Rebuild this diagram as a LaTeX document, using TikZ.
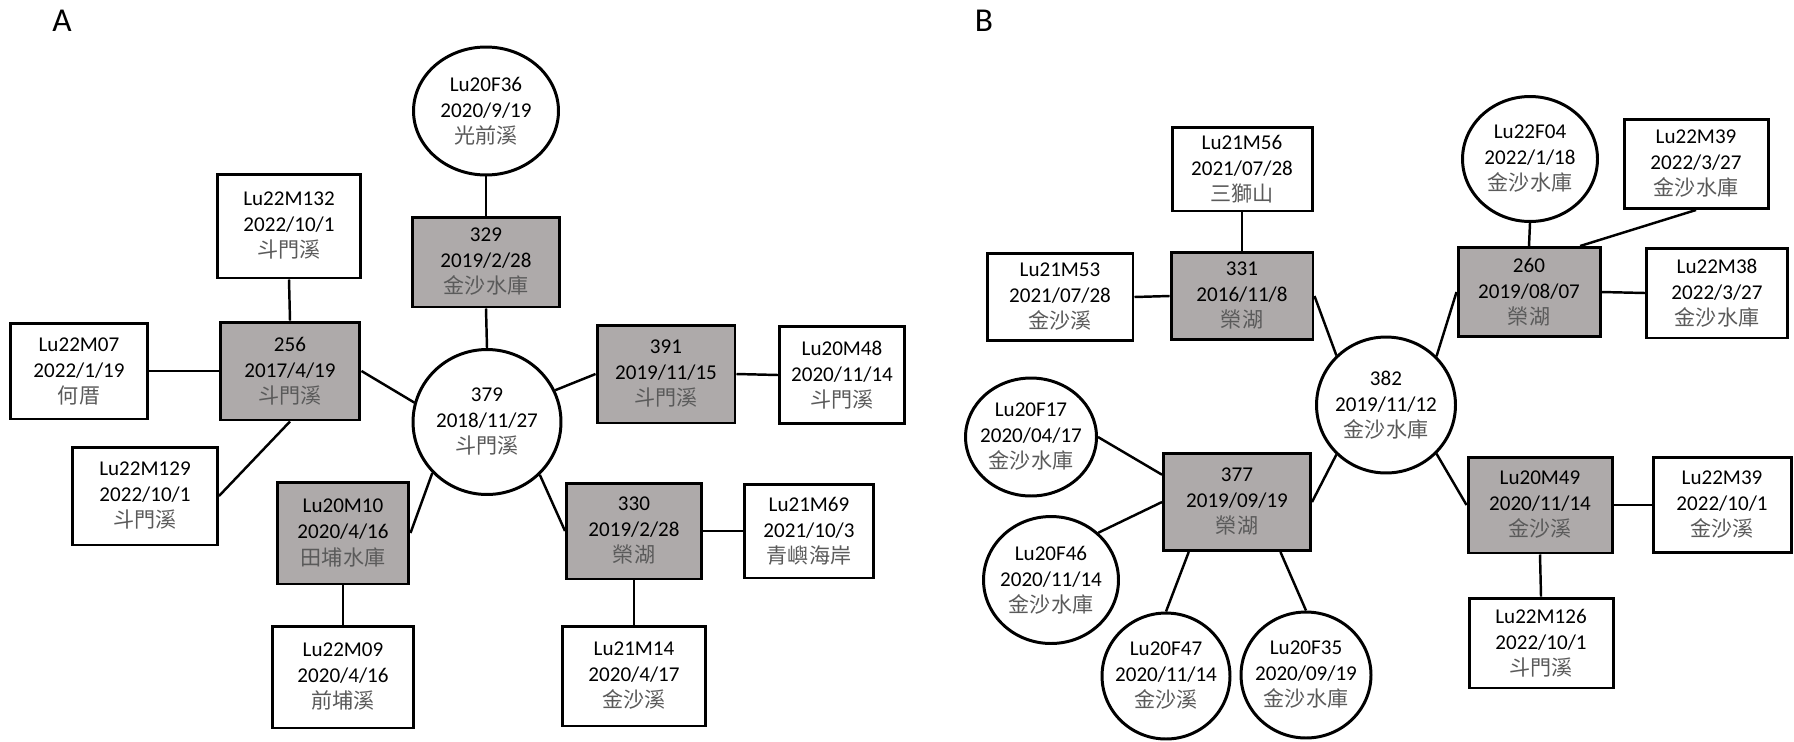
\documentclass[tikz,border=0pt]{standalone}
\usepackage{tikz, xcolor}
\usepackage{fontspec}
\setmainfont{Carlito}
\newfontfamily\cjk{Noto Sans CJK TC}
\usetikzlibrary{shapes.geometric}
\definecolor{boxgray}{RGB}{174,170,170}
\definecolor{locgray}{RGB}{90,90,90}
\newcommand{\loc}[1]{{\cjk\color{locgray}#1}}

\begin{document}
\begin{tikzpicture}[x=0.02cm, y=-0.02cm, font=\fontsize{12}{14.8}\selectfont]
\tikzstyle{vertexr}=[rectangle, draw=black, line width=1.7pt, fill=white, align=center, inner sep=1pt]
\tikzstyle{vertexg}=[vertexr, fill=boxgray]
\tikzstyle{vertexc}=[ellipse, draw=black, line width=1.7pt, fill=white, align=center, inner sep=-0.5cm]
\tikzstyle{drawstyle}=[line width=1.4pt]
\tikzstyle{panel}=[font=\fontsize{19}{22}\selectfont]

\useasboundingbox (0,0) rectangle (1794,741);

% panel A
\node[panel] (labA) at (62,21) {A};
\node[vertexc, minimum width=2.9cm, minimum height=2.56cm] (ALu20F36) at (486,111) {Lu20F36\\2020/9/19\\\loc{光前溪}};
\node[vertexg, minimum width=2.94cm, minimum height=1.8cm] (A329) at (486,262) {329\\2019/2/28\\\loc{金沙水庫}};
\node[vertexr, minimum width=2.86cm, minimum height=2.08cm] (ALu22M132) at (289,226) {Lu22M132\\2022/10/1\\\loc{斗門溪}};
\node[vertexg, minimum width=2.8cm, minimum height=1.96cm] (A256) at (290,371) {256\\2017/4/19\\\loc{斗門溪}};
\node[vertexr, minimum width=2.76cm, minimum height=1.92cm] (ALu22M07) at (79,371) {Lu22M07\\2022/1/19\\\loc{何厝}};
\node[vertexc, minimum width=2.96cm, minimum height=2.9cm] (A379) at (487,422) {379\\2018/11/27\\\loc{斗門溪}};
\node[vertexg, minimum width=2.76cm, minimum height=1.96cm] (A391) at (666,374) {391\\2019/11/15\\\loc{斗門溪}};
\node[vertexr, minimum width=2.5cm, minimum height=1.94cm] (ALu20M48) at (842,375) {Lu20M48\\2020/11/14\\\loc{斗門溪}};
\node[vertexr, minimum width=2.9cm, minimum height=1.96cm] (ALu22M129) at (145,496) {Lu22M129\\2022/10/1\\\loc{斗門溪}};
\node[vertexg, minimum width=2.64cm, minimum height=2.04cm] (ALu20M10) at (343,533) {Lu20M10\\2020/4/16\\\loc{田埔水庫}};
\node[vertexr, minimum width=2.84cm, minimum height=2.04cm] (ALu22M09) at (343,677) {Lu22M09\\2020/4/16\\\loc{前埔溪}};
\node[vertexg, minimum width=2.7cm, minimum height=1.92cm] (A330) at (634,531) {330\\2019/2/28\\\loc{榮湖}};
\node[vertexr, minimum width=2.58cm, minimum height=1.88cm] (ALu21M69) at (809,531) {Lu21M69\\2021/10/3\\\loc{青嶼海岸}};
\node[vertexr, minimum width=2.86cm, minimum height=2cm] (ALu21M14) at (634,676) {Lu21M14\\2020/4/17\\\loc{金沙溪}};

\draw[drawstyle] (ALu20F36.south) -- (A329.north);
\draw[drawstyle] (A329.south) -- (A379.north);
\draw[drawstyle] (ALu22M132.south) -- (A256.north);
\draw[drawstyle] (ALu22M07.east) -- (A256.west);
\draw[drawstyle] (A256.east) -- (A379.165);
\draw[drawstyle] (A391.west) -- (A379.25);
\draw[drawstyle] (A391.east) -- (ALu20M48.west);
\draw[drawstyle] (A256.south) -- (ALu22M129.east);
\draw[drawstyle] (ALu20M10.east) -- (A379.223);
\draw[drawstyle] (ALu20M10.south) -- (ALu22M09.north);
\draw[drawstyle] (A379.315) -- (A330.west);
\draw[drawstyle] (A330.east) -- (ALu21M69.west);
\draw[drawstyle] (A330.south) -- (ALu21M14.north);

% panel B
\node[panel] (labB) at (984,21) {B};
\node[vertexr, minimum width=2.8cm, minimum height=1.68cm] (BLu21M56) at (1242,169) {Lu21M56\\2021/07/28\\\loc{三獅山}};
\node[vertexr, minimum width=2.92cm, minimum height=1.74cm] (BLu21M53) at (1060,297) {Lu21M53\\2021/07/28\\\loc{金沙溪}};
\node[vertexg, minimum width=2.84cm, minimum height=1.74cm] (B331) at (1242,296) {331\\2016/11/8\\\loc{榮湖}};
\node[vertexc, minimum width=2.7cm, minimum height=2.5cm] (BLu22F04) at (1530,159) {Lu22F04\\2022/1/18\\\loc{金沙水庫}};
\node[vertexr, minimum width=2.88cm, minimum height=1.78cm] (BLu22M39) at (1696,164) {Lu22M39\\2022/3/27\\\loc{金沙水庫}};
\node[vertexg, minimum width=2.84cm, minimum height=1.78cm] (B260) at (1529,292) {260\\2019/08/07\\\loc{榮湖}};
\node[vertexr, minimum width=2.82cm, minimum height=1.8cm] (BLu22M38) at (1717,293) {Lu22M38\\2022/3/27\\\loc{金沙水庫}};
\node[vertexc, minimum width=2.78cm, minimum height=2.72cm] (B382) at (1386,405) {382\\2019/11/12\\\loc{金沙水庫}};
\node[vertexc, minimum width=2.62cm, minimum height=2.36cm] (BLu20F17) at (1031,437) {Lu20F17\\2020/04/17\\\loc{金沙水庫}};
\node[vertexg, minimum width=2.94cm, minimum height=1.94cm] (B377) at (1237,502) {377\\2019/09/19\\\loc{榮湖}};
\node[vertexc, minimum width=2.7cm, minimum height=2.54cm] (BLu20F46) at (1051,580) {Lu20F46\\2020/11/14\\\loc{金沙水庫}};
\node[vertexc, minimum width=2.56cm, minimum height=2.52cm] (BLu20F47) at (1166,676) {Lu20F47\\2020/11/14\\\loc{金沙溪}};
\node[vertexc, minimum width=2.6cm, minimum height=2.52cm] (BLu20F35) at (1306,675) {Lu20F35\\2020/09/19\\\loc{金沙水庫}};
\node[vertexg, minimum width=2.88cm, minimum height=1.92cm] (BLu20M49) at (1540,505) {Lu20M49\\2020/11/14\\\loc{金沙溪}};
\node[vertexr, minimum width=2.76cm, minimum height=1.9cm] (BLu22M39b) at (1722,505) {Lu22M39\\2022/10/1\\\loc{金沙溪}};
\node[vertexr, minimum width=2.88cm, minimum height=1.8cm] (BLu22M126) at (1541,643) {Lu22M126\\2022/10/1\\\loc{斗門溪}};

\draw[drawstyle] (BLu21M56.south) -- (B331.north);
\draw[drawstyle] (BLu21M53.east) -- (B331.west);
\draw[drawstyle] (B331.east) -- (B382.135);
\draw[drawstyle] (B260.west) -- (B382.44);
\draw[drawstyle] (BLu22F04.south) -- (B260.north);
\draw[drawstyle] (BLu22M39.south) -- (B260.42);
\draw[drawstyle] (B260.east) -- (BLu22M38.west);
\draw[drawstyle] (B382.225) -- (B377.east);
\draw[drawstyle] (B382.316) -- (BLu20M49.west);
\draw[drawstyle] (BLu20F17.east) -- (B377.160);
\draw[drawstyle] (BLu20F46.45) -- (B377.west);
\draw[drawstyle] (BLu20F47.north) -- (B377.226);
\draw[drawstyle] (BLu20F35.north) -- (B377.311);
\draw[drawstyle] (BLu20M49.east) -- (BLu22M39b.west);
\draw[drawstyle] (BLu20M49.south) -- (BLu22M126.north);
\end{tikzpicture}
\end{document}
